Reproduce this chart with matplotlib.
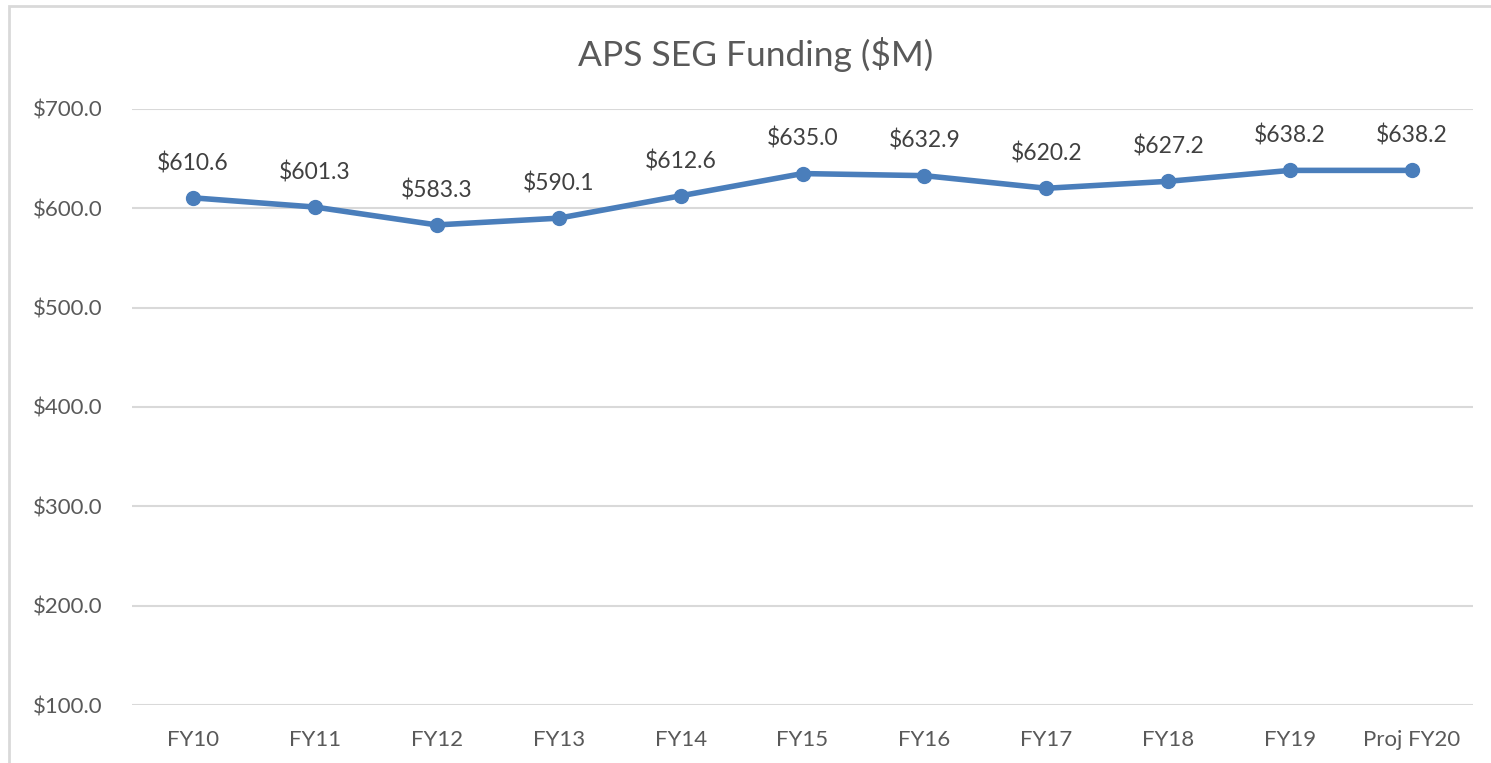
import matplotlib
matplotlib.use("Agg")
import matplotlib.pyplot as plt
from matplotlib.patches import Rectangle

categories = ["FY10", "FY11", "FY12", "FY13", "FY14", "FY15", "FY16", "FY17", "FY18", "FY19", "Proj FY20"]
values = [610.6, 601.3, 583.3, 590.1, 612.6, 635.0, 632.9, 620.2, 627.2, 638.2, 638.2]
yticks = [100, 200, 300, 400, 500, 600, 700]

plt.rcParams['font.family'] = ['Lato', 'DejaVu Sans']
W, H = 1491, 763
fig = plt.figure(figsize=(W / 100, H / 100), dpi=100)
ax = fig.add_axes([132 / W, 1 - 705 / H, (1473 - 132) / W, (705 - 109) / H])

text_color = "#595959"
grid_color = "#d9d9d9"
line_color = "#4a7ebb"

x = list(range(len(categories)))
ax.plot(x, values, color=line_color, lw=4, marker="o", markersize=10, solid_capstyle="round", zorder=3)
for xi, v in zip(x, values):
    ax.annotate(f"${v:.1f}", (xi, v), xytext=(0, 25), textcoords="offset points",
                ha="center", va="center", fontsize=16.5, color="#404040")

ax.set_xlim(-0.5, len(categories) - 0.5)
ax.set_ylim(100, 700)
ax.set_yticks(yticks)
ax.set_yticklabels([f"${t:.1f}" for t in yticks])
ax.set_xticks(x)
ax.set_xticklabels(categories)
ax.tick_params(axis="both", length=0, labelsize=16, colors=text_color)
ax.tick_params(axis="y", pad=21)
ax.tick_params(axis="x", pad=18)
ax.grid(axis="y", color=grid_color, lw=1.5)
ax.set_axisbelow(True)
for s in ax.spines.values():
    s.set_visible(False)

fig.text(756 / W, 1 - 55 / H, "APS SEG Funding ($M)", ha="center", va="center", fontsize=25.5, color=text_color)

fig.patches.append(Rectangle((9 / W, -0.1), 2, 1.1 - 6 / H, transform=fig.transFigure,
                             fill=False, edgecolor=grid_color, lw=2))

fig.savefig("out.png", dpi=100)
